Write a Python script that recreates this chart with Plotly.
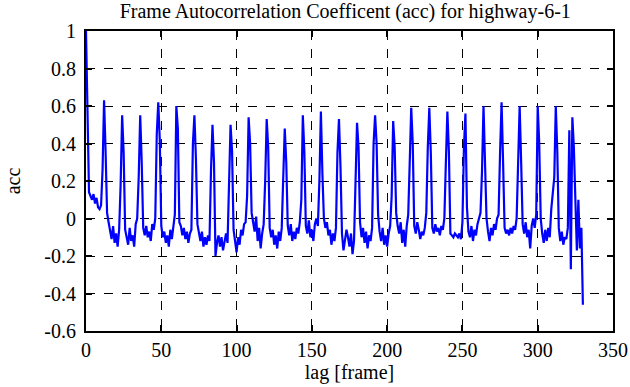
import plotly.graph_objects as go

# autocorrelation values for lag 0..330
acc = [
 1.00, 0.58, 0.14, 0.12, 0.10, 0.13, 0.08, 0.11, 0.06, 0.05, 0.07, 0.26,
 0.63, 0.36, 0.03, -0.02, -0.06, -0.11, -0.04, -0.13, -0.08, -0.15, -0.06, 0.18,
 0.55, 0.35, -0.06, -0.10, -0.14, -0.05, -0.12, -0.09, -0.15, -0.03, 0.00, 0.22,
 0.55, 0.30, -0.05, -0.09, -0.04, -0.10, -0.07, -0.12, -0.03, -0.06, 0.00, 0.45,
 0.62, 0.42, -0.04, -0.10, -0.07, -0.13, -0.09, -0.15, -0.06, -0.11, -0.03, 0.02,
 0.60, 0.48, -0.02, -0.04, -0.09, -0.05, -0.11, -0.07, -0.13, -0.08, -0.06, 0.40,
 0.55, 0.32, -0.03, -0.08, -0.12, -0.07, -0.15, -0.10, -0.14, -0.09, -0.12, 0.25,
 0.50, 0.30, -0.20, -0.13, -0.09, -0.15, -0.10, -0.17, -0.12, -0.08, -0.13, 0.20,
 0.50, 0.36, -0.06, -0.12, -0.18, -0.10, -0.14, -0.06, -0.09, -0.03, -0.02, 0.12,
 0.54, 0.40, 0.03, -0.02, -0.07, 0.01, -0.12, -0.05, -0.16, -0.08, -0.03, 0.20,
 0.53, 0.38, -0.05, -0.10, -0.06, -0.14, -0.09, -0.16, -0.07, -0.12, -0.05, 0.22,
 0.48, 0.30, -0.04, -0.09, -0.03, -0.12, -0.07, -0.11, -0.05, -0.08, -0.02, 0.10,
 0.55, 0.36, -0.04, -0.08, -0.01, -0.10, -0.06, -0.12, -0.03, 0.00, -0.04, 0.20,
 0.57, 0.24, 0.00, -0.05, -0.02, -0.09, -0.06, -0.14, -0.08, -0.12, -0.05, 0.35,
 0.53, 0.28, -0.08, -0.17, -0.12, -0.06, -0.10, -0.15, -0.08, -0.19, -0.12, 0.15,
 0.51, 0.38, -0.02, -0.10, -0.05, -0.13, -0.07, -0.16, -0.09, -0.12, -0.05, 0.40,
 0.55, 0.40, 0.02, -0.07, -0.12, -0.05, -0.14, -0.09, -0.15, -0.08, -0.04, 0.12,
 0.52, 0.38, 0.03, -0.04, -0.08, -0.02, -0.13, -0.06, -0.15, -0.04, 0.02, 0.30,
 0.59, 0.40, -0.04, -0.08, -0.02, -0.06, -0.11, -0.07, -0.09, -0.05, 0.03, 0.38,
 0.59, 0.35, -0.05, -0.08, -0.03, -0.07, -0.05, -0.09, -0.04, -0.06, 0.00, 0.30,
 0.57, 0.36, -0.08, -0.09, -0.10, -0.08, -0.09, -0.10, -0.08, -0.11, -0.02, 0.38,
 0.56, 0.06, -0.07, -0.10, -0.04, -0.12, -0.06, -0.09, -0.03, 0.00, 0.03, 0.25,
 0.60, 0.30, 0.00, -0.07, -0.12, -0.05, -0.09, -0.03, -0.06, 0.00, 0.02, 0.35,
 0.62, 0.30, -0.05, -0.08, -0.06, -0.09, -0.05, -0.08, -0.04, -0.06, 0.00, 0.30,
 0.60, 0.30, -0.03, -0.08, -0.02, -0.10, -0.06, -0.16, -0.04, 0.00, -0.05, 0.02,
 0.60, 0.40, 0.00, -0.08, -0.13, -0.06, -0.12, -0.05, -0.10, 0.05, 0.15, 0.22,
 0.60, 0.36, -0.05, -0.12, -0.07, -0.14, -0.10, -0.11, -0.05, 0.47, -0.27, 0.54,
 0.38, 0.12, -0.17, 0.10, -0.16, -0.05, -0.46,
]
lags = list(range(len(acc)))

x_ticks = [0, 50, 100, 150, 200, 250, 300, 350]
y_ticks = [1, 0.8, 0.6, 0.4, 0.2, 0, -0.2, -0.4, -0.6]
y_tick_labels = ["1", "0.8", "0.6", "0.4", "0.2", "0", "-0.2", "-0.4", "-0.6"]

FONT = "Liberation Serif"
FS = 20

fig = go.Figure()
fig.add_trace(go.Scatter(x=lags, y=acc, mode="lines",
                         line=dict(color="#0000FF", width=2.2),
                         showlegend=False))

axis_common = dict(
    showline=True, linecolor="black", linewidth=2, mirror="ticks",
    ticks="inside", ticklen=6, tickwidth=1.5, tickcolor="black",
    showgrid=True, gridcolor="black", gridwidth=1, griddash="dash",
    zeroline=False, automargin=False,
    tickfont=dict(family=FONT, size=FS, color="black"),
)

fig.update_layout(
    width=630, height=387,
    margin=dict(l=86, r=17, t=31, b=56),
    paper_bgcolor="white", plot_bgcolor="white",
    font=dict(family=FONT, size=FS, color="black"),
    title=dict(text="Frame Autocorrelation Coefficent (acc) for highway-6-1",
               x=0.548, xanchor="center", y=0.99, yanchor="top",
               font=dict(family=FONT, size=20, color="black")),
    xaxis=dict(range=[0, 350], tickvals=x_ticks,
               title=dict(text="lag [frame]", standoff=4,
                          font=dict(family=FONT, size=FS)),
               **axis_common),
    yaxis=dict(range=[-0.6, 1], tickvals=y_ticks, ticktext=y_tick_labels,
               ticklabelstandoff=4,
               title=dict(text="acc", standoff=18,
                          font=dict(family=FONT, size=FS)),
               **axis_common),
)

fig.write_html(
    "out.html",
    config={"displayModeBar": False},
    post_script="document.body.style.margin='0';document.body.style.overflow='hidden';",
)
